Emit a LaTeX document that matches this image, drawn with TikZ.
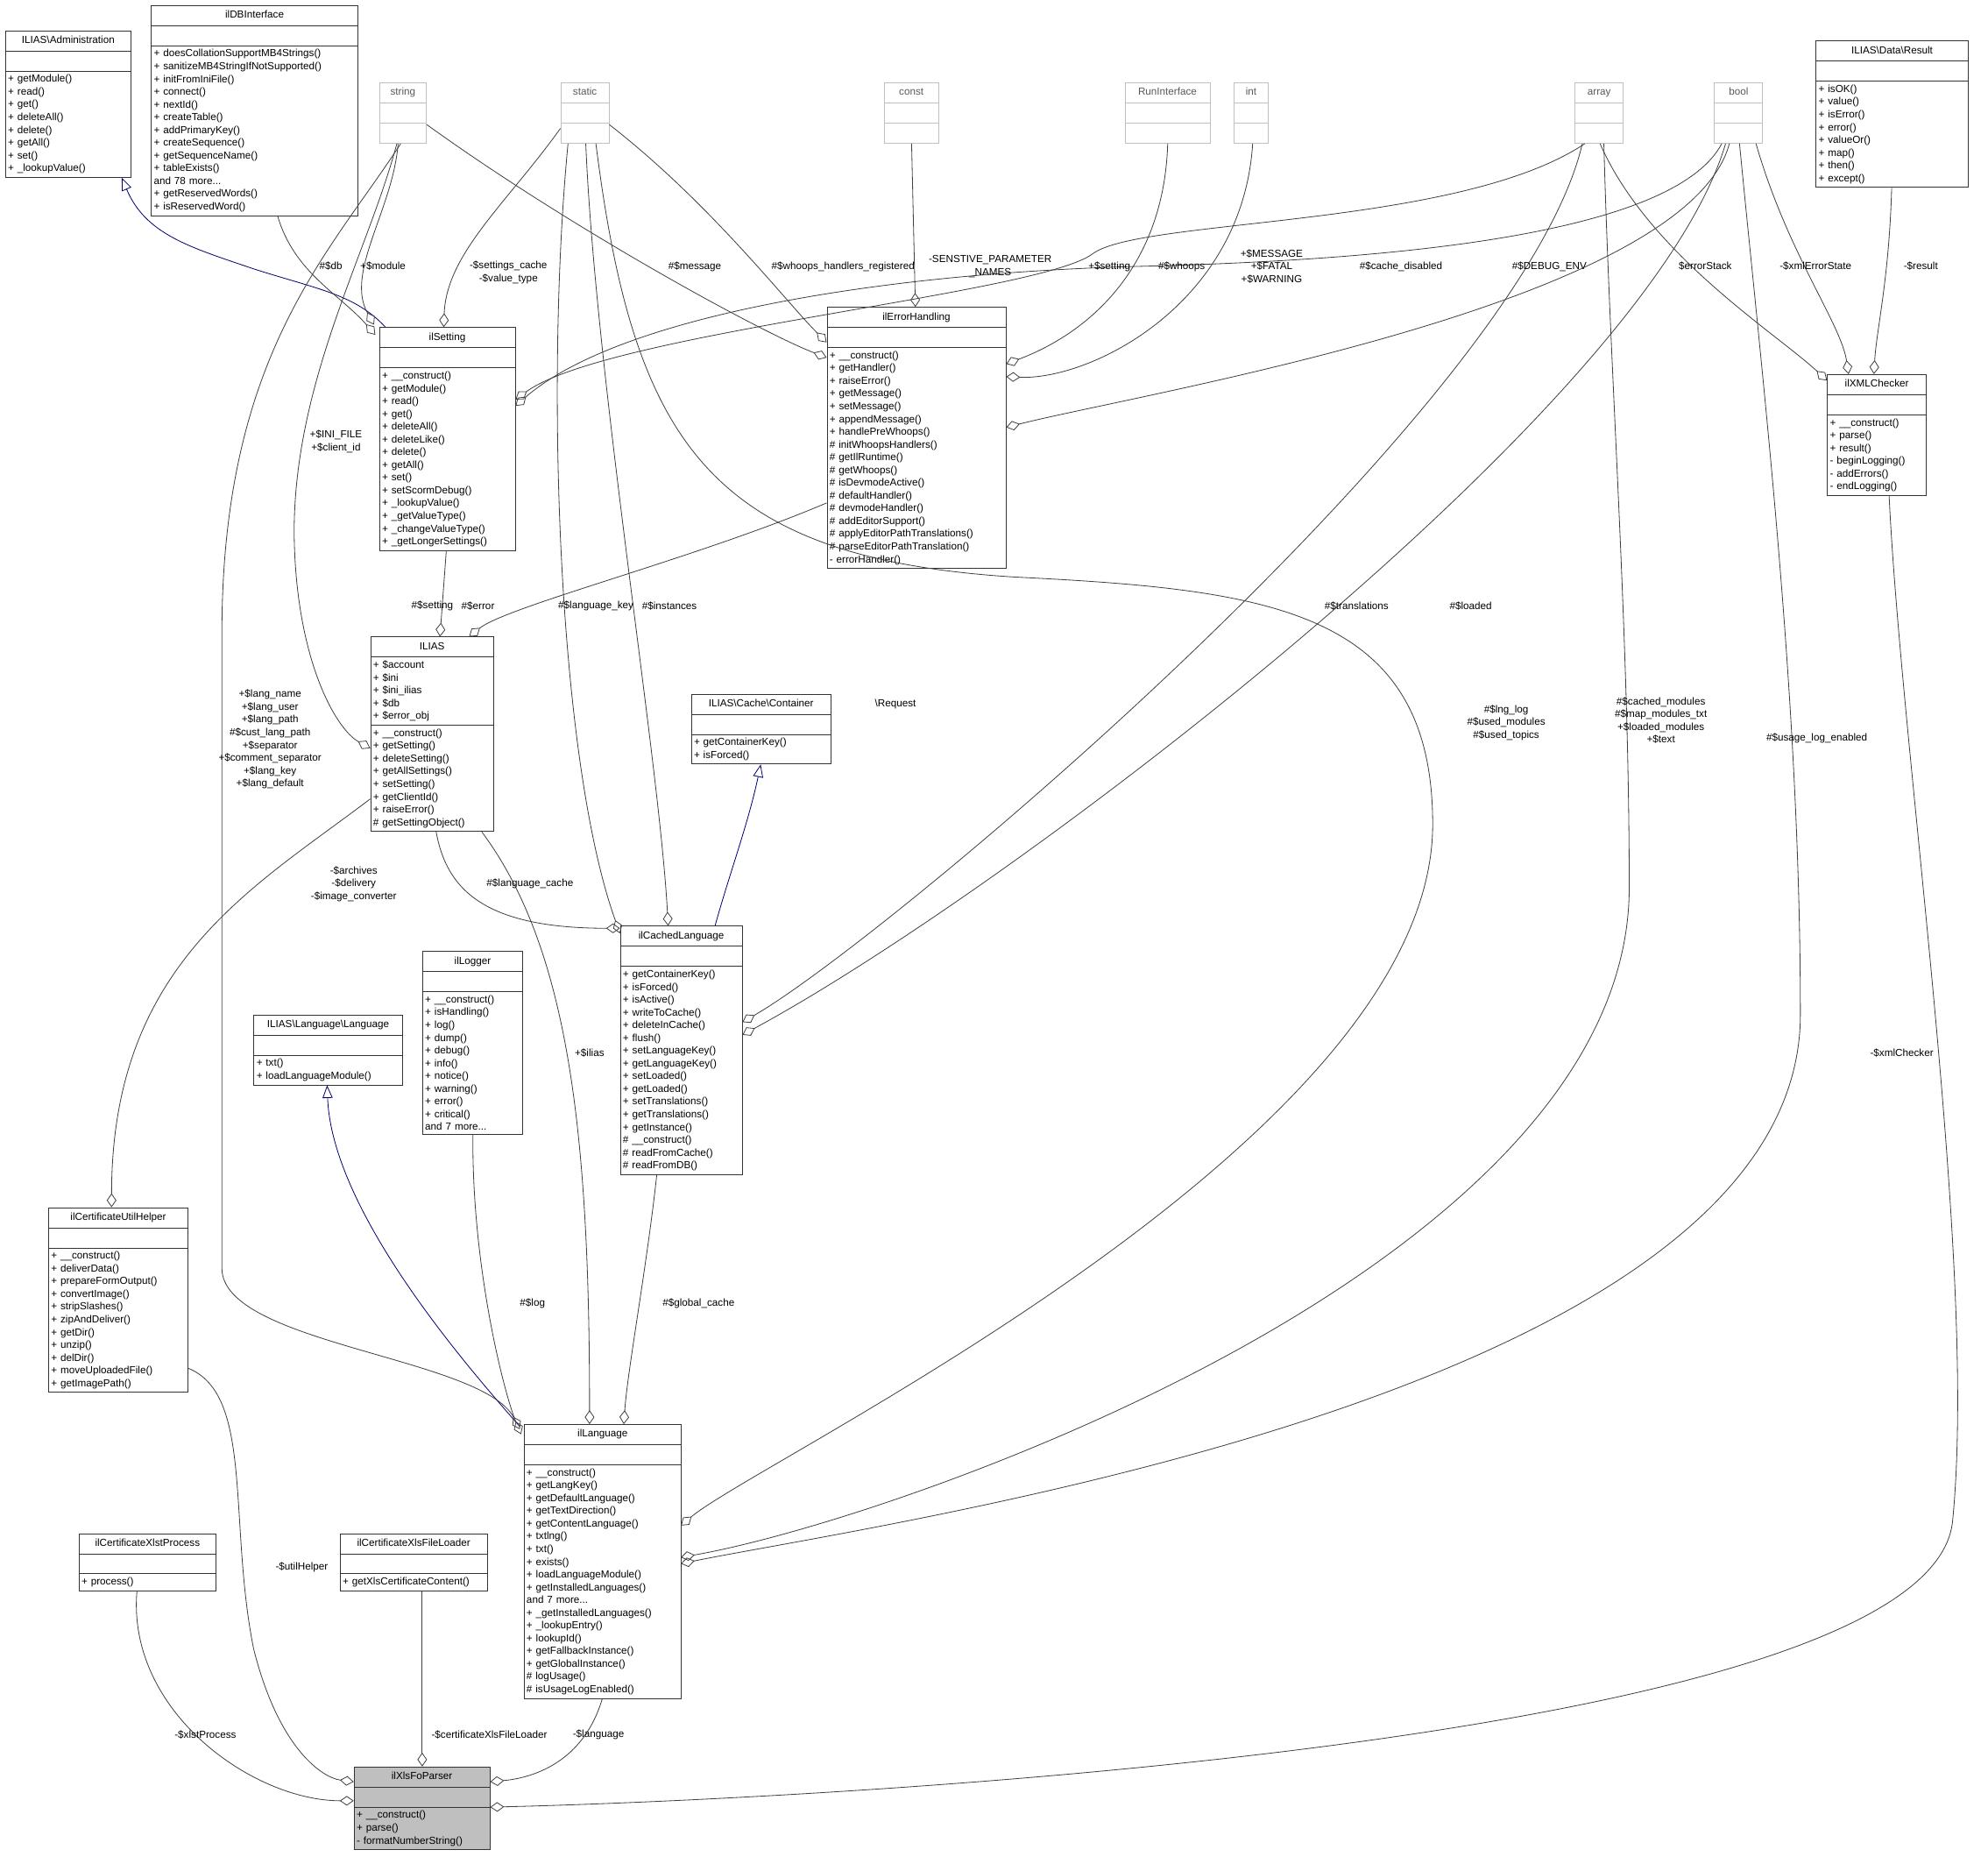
\documentclass[tikz,border=0pt]{standalone}
\usepackage{fontspec}
\setmainfont{Liberation Sans}
\usetikzlibrary{shapes.multipart,arrows.meta,calc}
\newcommand\ctitle[1]{\hbox to \hsize{\hfil\strut#1\hfil}}
\tikzset{
    cls/.style={
        rectangle split,
        rectangle split parts=3,
        draw=black!80, % 边框
        fill=white,
        line width=0.9pt,
        anchor=north west,
        text width=#1,
        align=left,
        inner xsep=0.1cm,
        inner ysep=0.13cm,
        font=\fontsize{11.5}{14.3}\selectfont
    },
    ext/.style={
        cls=#1,
        draw=black!25,
        text=black!65
    },
    focus/.style={
        cls=#1,
        fill=black!25
    },
    lbl/.style={
        align=center,
        inner sep=0,
        font=\fontsize{11.5}{14.3}\selectfont
    },
    use/.style={
        draw=black!75,
        line width=0.8pt,
        -{Diamond[open,length=0.55cm,width=0.38cm]}
    },
    inh/.style={
        draw=blue!45!black,
        line width=0.8pt,
        -{Triangle[open,length=0.5cm,width=0.4cm]}
    }
}
\begin{document}
\begin{tikzpicture}[x=0.05cm,y=-0.05cm]
    \useasboundingbox (0,0) rectangle (1568,1469.7);
    % types used as members
    \node[cls=4.75cm] (admset) at (4,24) {\ctitle{ILIAS\textbackslash Administration}\ctitle{\textbackslash Setting}
        \nodepart{two}\strut
        \nodepart{three}+ getModule()\\+ read()\\+ get()\\+ deleteAll()\\+ delete()\\+ getAll()\\+ set()\\+ \_lookupValue()};
    \node[cls=7.95cm] (dbi) at (119,4) {\ctitle{ilDBInterface}
        \nodepart{two}\strut
        \nodepart{three}+ doesCollationSupportMB4Strings()\\+ sanitizeMB4StringIfNotSupported()\\+ initFromIniFile()\\+ connect()\\+ nextId()\\+ createTable()\\+ addPrimaryKey()\\+ createSequence()\\+ getSequenceName()\\+ tableExists()\\and 78 more...\\+ getReservedWords()\\+ isReservedWord()};
    \node[ext=1.65cm] (string) at (299,65) {\ctitle{string}\nodepart{two}\strut\nodepart{three}\strut};
    \node[ext=1.7cm] (static) at (442,65) {\ctitle{static}\nodepart{two}\strut\nodepart{three}\strut};
    \node[ext=1.95cm] (const) at (697,65) {\ctitle{const}\nodepart{two}\strut\nodepart{three}\strut};
    \node[ext=3.15cm] (runif) at (887,65) {\ctitle{RunInterface}\nodepart{two}\strut\nodepart{three}\strut};
    \node[ext=1.15cm] (int) at (973,65) {\ctitle{int}\nodepart{two}\strut\nodepart{three}\strut};
    \node[ext=1.7cm] (array) at (1242,65) {\ctitle{array}\nodepart{two}\strut\nodepart{three}\strut};
    \node[ext=1.7cm] (bool) at (1352,65) {\ctitle{bool}\nodepart{two}\strut\nodepart{three}\strut};
    \node[cls=5.8cm] (result) at (1432,32) {\ctitle{ILIAS\textbackslash Data\textbackslash Result}
        \nodepart{two}\strut
        \nodepart{three}+ isOK()\\+ value()\\+ isError()\\+ error()\\+ valueOr()\\+ map()\\+ then()\\+ except()};
    % second row
    \node[cls=5.15cm] (ilsetting) at (299,258) {\ctitle{ilSetting}
        \nodepart{two}\strut
        \nodepart{three}+ \_\_construct()\\+ getModule()\\+ read()\\+ get()\\+ deleteAll()\\+ deleteLike()\\+ delete()\\+ getAll()\\+ set()\\+ setScormDebug()\\+ \_lookupValue()\\+ \_getValueType()\\+ \_changeValueType()\\+ \_getLongerSettings()};
    \node[cls=6.85cm] (errh) at (652,242) {\ctitle{ilErrorHandling}
        \nodepart{two}\strut
        \nodepart{three}+ \_\_construct()\\+ getHandler()\\+ raiseError()\\+ getMessage()\\+ setMessage()\\+ appendMessage()\\+ handlePreWhoops()\\\# initWhoopsHandlers()\\\# getIlRuntime()\\\# getWhoops()\\\# isDevmodeActive()\\\# defaultHandler()\\\# devmodeHandler()\\\# addEditorSupport()\\\# applyEditorPathTranslations()\\\# parseEditorPathTranslation()\\- errorHandler()};
    \node[cls=3.7cm] (xmlchk) at (1441,295) {\ctitle{ilXMLChecker}
        \nodepart{two}\strut
        \nodepart{three}+ \_\_construct()\\+ parse()\\+ result()\\- beginLogging()\\- addErrors()\\- endLogging()};
    \node[cls=4.65cm] (ilias) at (292,502) {\ctitle{ILIAS}
        \nodepart{two}+ \$account\\+ \$ini\\+ \$ini\_ilias\\+ \$db\\+ \$error\_obj
        \nodepart{three}+ \_\_construct()\\+ getSetting()\\+ deleteSetting()\\+ getAllSettings()\\+ setSetting()\\+ getClientId()\\+ raiseError()\\\# getSettingObject()};
    \node[cls=5.3cm] (request) at (545,547) {\ctitle{ILIAS\textbackslash Cache\textbackslash Container}\ctitle{\textbackslash Request}
        \nodepart{two}\strut
        \nodepart{three}+ getContainerKey()\\+ isForced()};
    \node[cls=4.6cm] (cachedlng) at (489,730) {\ctitle{ilCachedLanguage}
        \nodepart{two}\strut
        \nodepart{three}+ getContainerKey()\\+ isForced()\\+ isActive()\\+ writeToCache()\\+ deleteInCache()\\+ flush()\\+ setLanguageKey()\\+ getLanguageKey()\\+ setLoaded()\\+ getLoaded()\\+ setTranslations()\\+ getTranslations()\\+ getInstance()\\\# \_\_construct()\\\# readFromCache()\\\# readFromDB()};
    \node[cls=3.75cm] (logger) at (333,750) {\ctitle{ilLogger}
        \nodepart{two}\strut
        \nodepart{three}+ \_\_construct()\\+ isHandling()\\+ log()\\+ dump()\\+ debug()\\+ info()\\+ notice()\\+ warning()\\+ error()\\+ critical()\\and 7 more...};
    \node[cls=5.65cm] (langif) at (200,800) {\ctitle{ILIAS\textbackslash Language\textbackslash Language}
        \nodepart{two}\strut
        \nodepart{three}+ txt()\\+ loadLanguageModule()};
    \node[cls=5.3cm] (utilhelper) at (38,952) {\ctitle{ilCertificateUtilHelper}
        \nodepart{two}\strut
        \nodepart{three}+ \_\_construct()\\+ deliverData()\\+ prepareFormOutput()\\+ convertImage()\\+ stripSlashes()\\+ zipAndDeliver()\\+ getDir()\\+ unzip()\\+ delDir()\\+ moveUploadedFile()\\+ getImagePath()};
    \node[cls=6.0cm] (language) at (413,1123) {\ctitle{ilLanguage}
        \nodepart{two}\strut
        \nodepart{three}+ \_\_construct()\\+ getLangKey()\\+ getDefaultLanguage()\\+ getTextDirection()\\+ getContentLanguage()\\+ txtlng()\\+ txt()\\+ exists()\\+ loadLanguageModule()\\+ getInstalledLanguages()\\and 7 more...\\+ \_getInstalledLanguages()\\+ \_lookupEntry()\\+ lookupId()\\+ getFallbackInstance()\\+ getGlobalInstance()\\\# logUsage()\\\# isUsageLogEnabled()};
    \node[cls=5.2cm] (xlstproc) at (62,1209) {\ctitle{ilCertificateXlstProcess}
        \nodepart{two}\strut
        \nodepart{three}+ process()};
    \node[cls=5.6cm] (xlsloader) at (268,1209) {\ctitle{ilCertificateXlsFileLoader}
        \nodepart{two}\strut
        \nodepart{three}+ getXlsCertificateContent()};
    \node[focus=5.15cm] (parser) at (279,1393) {\ctitle{ilXlsFoParser}
        \nodepart{two}\strut
        \nodepart{three}+ \_\_construct()\\+ parse()\\- formatNumberString()};

    % inheritance
    \draw[inh] ($(ilsetting.north west)+(5,0)$) .. controls (280,232) and (250,228) .. (200,212) .. controls (150,195) and (115,185) .. ($(admset.south west)+(92,0)$);
    \draw[inh] ($(cachedlng.north west)+(75,0)$) .. controls (575,690) and (590,650) .. ($(request.south west)+(55,0)$);
    \draw[inh] ($(language.north west)+(-3,2)$) .. controls (380,1090) and (262,960) .. ($(langif.south west)+(58,0)$);

    % ilSetting
    \draw[use] ($(dbi.south west)+(100,0)$) .. controls (232,215) and (268,232) .. ($(ilsetting.north west)+(-3,6)$);
    \draw[use] ($(string.south west)+(15,0)$) .. controls (310,165) and (272,215) .. ($(ilsetting.north west)+(-4,-2)$);
    \draw[use] ($(static.south west)+(0,-12)$) .. controls (400,160) and (352,200) .. ($(ilsetting.north west)+(51,0)$);
    \draw[use] ($(array.south west)+(8,0)$) .. controls (1150,180) and (900,172) .. (862,200) .. controls (820,232) and (480,262) .. ($(ilsetting.north east)+(0,57)$);
    \draw[use] ($(bool.south west)+(6,0)$) .. controls (1320,185) and (1100,205) .. (900,210) .. controls (700,215) and (490,248) .. ($(ilsetting.north east)+(0,62)$);
    % ilErrorHandling
    \draw[use] ($(string.south east)+(0,-15)$) .. controls (450,180) and (600,262) .. ($(errh.north west)+(0,40)$);
    \draw[use] ($(static.south east)+(0,-15)$) .. controls (560,160) and (620,238) .. ($(errh.north west)+(0,28)$);
    \draw[use] ($(const.south west)+(22,0)$) -- ($(errh.north west)+(70,0)$);
    \draw[use] ($(runif.south west)+(34,0)$) .. controls (918,210) and (860,262) .. ($(errh.north east)+(0,45)$);
    \draw[use] ($(int.south west)+(15,0)$) .. controls (980,240) and (860,300) .. ($(errh.north east)+(0,55)$);
    \draw[use] ($(bool.south west)+(12,0)$) .. controls (1330,240) and (900,310) .. ($(errh.north east)+(0,95)$);
    % ilXMLChecker
    \draw[use] ($(array.south west)+(20,0)$) .. controls (1300,200) and (1400,262) .. ($(xmlchk.north west)+(0,5)$);
    \draw[use] ($(bool.south west)+(33,0)$) .. controls (1410,200) and (1452,255) .. ($(xmlchk.north west)+(17,0)$);
    \draw[use] ($(result.south west)+(60,0)$) .. controls (1490,220) and (1480,260) .. ($(xmlchk.north west)+(37,0)$);
    % ILIAS
    \draw[use] ($(string.south west)+(14,0)$) .. controls (290,200) and (232,300) .. (232,420) .. controls (233,520) and (265,575) .. ($(ilias.north west)+(0,88)$);
    \draw[use] ($(ilsetting.south west)+(53,0)$) -- ($(ilias.north west)+(55,0)$);
    \draw[use] ($(errh.south west)+(0,-52)$) .. controls (550,440) and (400,478) .. ($(ilias.north west)+(78,0)$);
    % ilCachedLanguage
    \draw[use] ($(static.south west)+(6,0)$) .. controls (430,300) and (440,600) .. ($(cachedlng.north west)+(0,6)$);
    \draw[use] ($(static.south west)+(20,0)$) .. controls (470,300) and (520,600) .. ($(cachedlng.north west)+(38,0)$);
    \draw[use] ($(array.south west)+(6,0)$) .. controls (1200,320) and (700,740) .. ($(cachedlng.north east)+(0,76)$);
    \draw[use] ($(bool.south west)+(9,0)$) .. controls (1300,320) and (800,700) .. ($(cachedlng.north east)+(0,86)$);
    \draw[use] ($(ilias.south west)+(52,0)$) .. controls (352,700) and (380,732) .. ($(cachedlng.north west)+(0,2)$);
    % ilCertificateUtilHelper
    \draw[use] ($(ilias.north west)+(0,128)$) .. controls (200,700) and (88,760) .. ($(utilhelper.north west)+(50,0)$);
    % ilLanguage
    \draw[use] ($(string.south west)+(17,0)$) .. controls (260,200) and (175,280) .. (175,500) -- (175,1000) .. controls (175,1060) and (380,1070) .. ($(language.north west)+(-3,4)$);
    \draw[use] ($(static.south west)+(28,0)$) .. controls (500,350) and (560,440) .. (800,455) .. controls (1000,465) and (1130,480) .. (1130,650) .. controls (1130,900) and (600,1150) .. ($(language.north west)+(124,80)$);
    \draw[use] ($(array.south west)+(23,0)$) .. controls (1270,300) and (1285,500) .. (1285,700) .. controls (1285,1000) and (700,1200) .. ($(language.north west)+(124,105)$);
    \draw[use] ($(bool.south west)+(20,0)$) .. controls (1390,300) and (1420,550) .. (1420,800) .. controls (1420,1100) and (700,1200) .. ($(language.north west)+(124,110)$);
    \draw[use] ($(ilias.south west)+(88,0)$) .. controls (450,750) and (465,900) .. ($(language.north west)+(52,0)$);
    \draw[use] ($(logger.south west)+(40,0)$) .. controls (372,1000) and (398,1100) .. ($(language.north west)+(-2,8)$);
    \draw[use] ($(cachedlng.south west)+(29,0)$) .. controls (510,1000) and (495,1080) .. ($(language.north west)+(79,0)$);
    % ilXlsFoParser
    \draw[use] ($(xlstproc.south west)+(46,0)$) .. controls (100,1350) and (200,1420) .. ($(parser.north west)+(0,27)$);
    \draw[use] ($(utilhelper.north east)+(0,127)$) .. controls (200,1100) and (180,1200) .. (200,1300) .. controls (220,1380) and (255,1402) .. ($(parser.north west)+(0,12)$);
    \draw[use] ($(xlsloader.south west)+(65,0)$) -- ($(parser.north west)+(54,0)$);
    \draw[use] ($(language.south west)+(62,0)$) .. controls (460,1390) and (420,1402) .. ($(parser.north east)+(0,12)$);
    \draw[use] ($(xmlchk.south west)+(49,0)$) .. controls (1500,600) and (1560,1000) .. (1540,1200) .. controls (1520,1380) and (600,1420) .. ($(parser.north east)+(0,32)$);

    % member labels
    \node[lbl] (ldb) at (261,210) {\#\$db};
    \node[lbl] (lmodule) at (302,210) {+\$module};
    \node[lbl] (lscache) at (401,215) {-\$settings\_cache\\-\$value\_type};
    \node[lbl] (lmessage) at (548,210) {\#\$message};
    \node[lbl] (lwhreg) at (665,210) {\#\$whoops\_handlers\_registered};
    \node[lbl] (lsens) at (781,210) {-SENSTIVE\_PARAMETER\\\_NAMES};
    \node[lbl] (lsetting) at (875,210) {+\$setting};
    \node[lbl] (lwhoops) at (932,210) {\#\$whoops};
    \node[lbl] (lmsg) at (1003,210) {+\$MESSAGE\\+\$FATAL\\+\$WARNING};
    \node[lbl] (lcache) at (1105,210) {\#\$cache\_disabled};
    \node[lbl] (ldebug) at (1222,210) {\#\$DEBUG\_ENV};
    \node[lbl] (lstack) at (1345,210) {\$errorStack};
    \node[lbl] (lxmlstate) at (1432,210) {-\$xmlErrorState};
    \node[lbl] (lresult) at (1515,210) {-\$result};
    \node[lbl] (lini) at (265,348) {+\$INI\_FILE\\+\$client\_id};
    \node[lbl] (lsetting2) at (341,478) {\#\$setting};
    \node[lbl] (lerror) at (377,478) {\#\$error};
    \node[lbl] (llangkey) at (470,478) {\#\$language\_key};
    \node[lbl] (linst) at (528,478) {\#\$instances};
    \node[lbl] (ltrans) at (1070,478) {\#\$translations};
    \node[lbl] (lloaded) at (1160,478) {\#\$loaded};
    \node[lbl] (llang) at (213,583) {+\$lang\_name\\+\$lang\_user\\+\$lang\_path\\\#\$cust\_lang\_path\\+\$separator\\+\$comment\_separator\\+\$lang\_key\\+\$lang\_default};
    \node[lbl] (llnglog) at (1188,570) {\#\$lng\_log\\\#\$used\_modules\\\#\$used\_topics};
    \node[lbl] (lcached) at (1310,568) {\#\$cached\_modules\\\#\$map\_modules\_txt\\+\$loaded\_modules\\+\$text};
    \node[lbl] (lusage) at (1433,582) {\#\$usage\_log\_enabled};
    \node[lbl] (llcache) at (418,697) {\#\$language\_cache};
    \node[lbl] (larch) at (279,697) {-\$archives\\-\$delivery\\-\$image\_converter};
    \node[lbl] (lilias) at (465,830) {+\$ilias};
    \node[lbl] (lxmlchk) at (1500,830) {-\$xmlChecker};
    \node[lbl] (llog) at (420,1028) {\#\$log};
    \node[lbl] (lglobal) at (551,1028) {\#\$global\_cache};
    \node[lbl] (lutil) at (238,1236) {-\$utilHelper};
    \node[lbl] (lxslt) at (162,1368) {-\$xlstProcess};
    \node[lbl] (lloader) at (386,1368) {-\$certificateXlsFileLoader};
    \node[lbl] (llanguage) at (472,1368) {-\$language};
\end{tikzpicture}
\end{document}
